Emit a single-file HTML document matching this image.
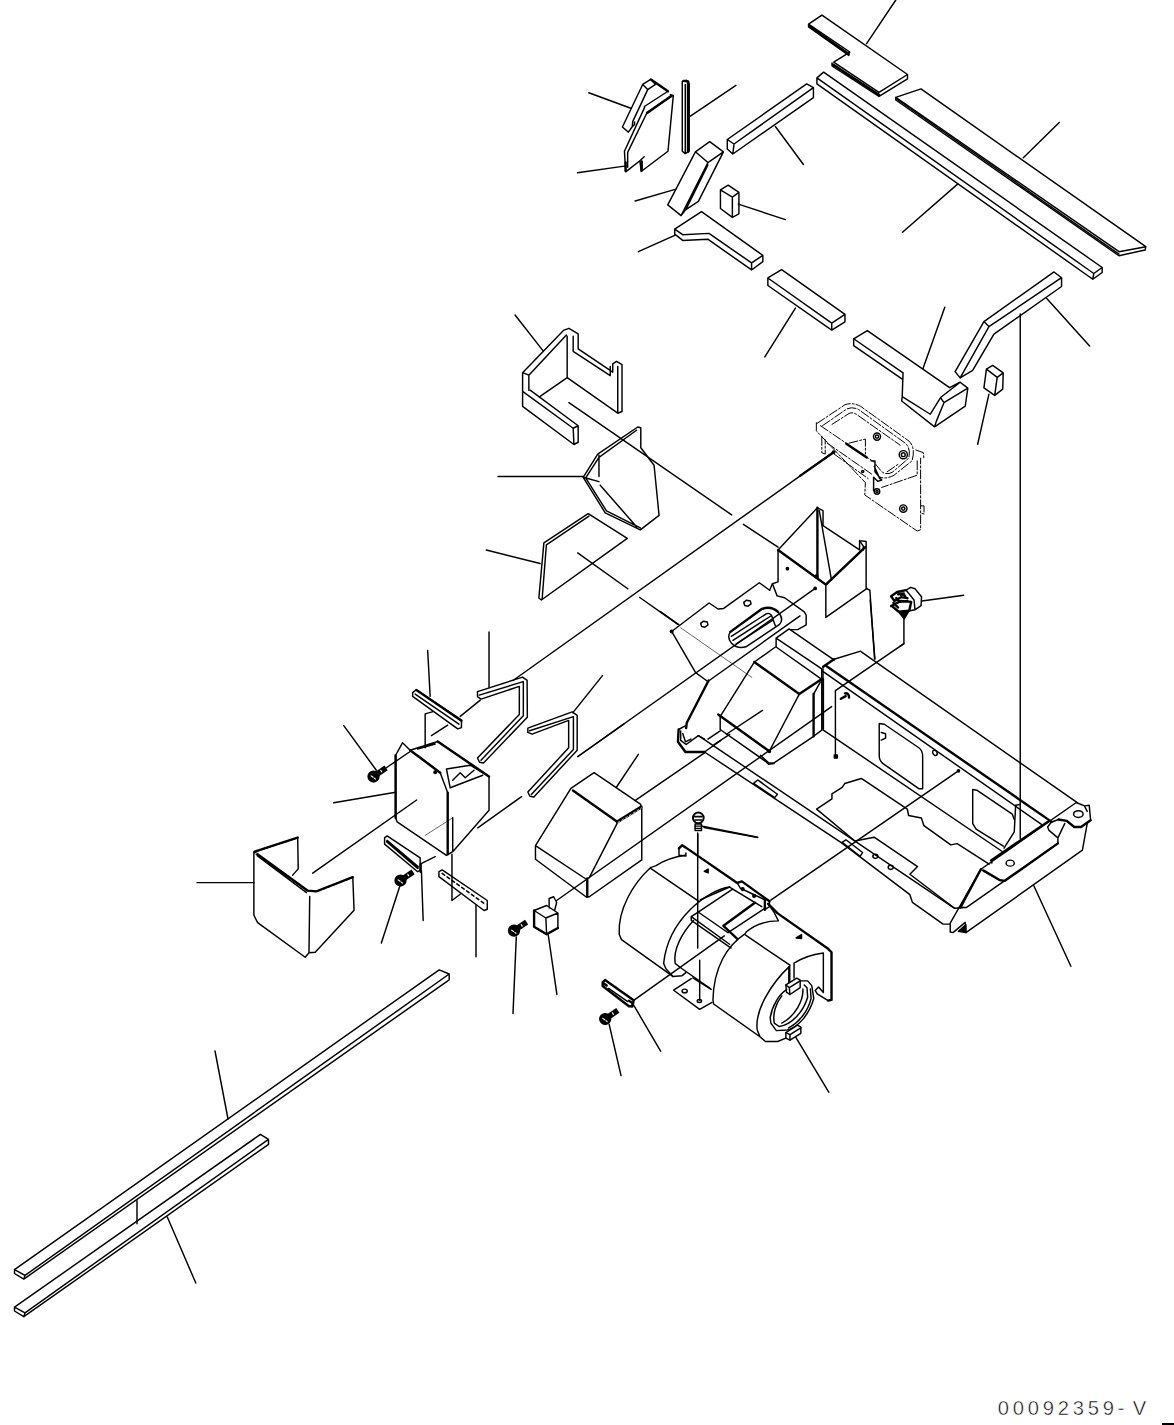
<!DOCTYPE html>
<html><head><meta charset="utf-8"><title>00092359-V</title>
<style>
html,body{margin:0;padding:0;background:#fff;}
body{width:1174px;height:1425px;overflow:hidden;position:relative;font-family:"Liberation Mono",monospace;}
svg{position:absolute;left:0;top:0;}
svg path,svg line,svg ellipse,svg circle,svg polyline,svg polygon,svg rect{fill:none;stroke:#000;stroke-width:1.45;vector-effect:non-scaling-stroke;stroke-linejoin:round;stroke-linecap:round;}
svg .t{stroke-width:2.4;}
svg .w{fill:#fff;}
svg .f{fill:#000;}
svg .p{fill:none;}
svg .d{stroke-dasharray:9 2 2 2;stroke-width:1;}
</style></head><body>
<svg width="1174" height="1425" viewBox="0 0 1174 1425">
<g transform="translate(373.5,776.5)"><circle class="f" cx="0" cy="0" r="5.4"/><path d="M3.5,-2.4 L12.6,-8.6" style="stroke-width:5.6;stroke-linecap:butt"/><path d="M-2.4,-0.6 L-0.4,0.8 M0.8,1.6 L2,2.6 M7.2,-6.2 L8.2,-4.6" style="stroke:#fff;stroke-width:1.1"/></g>
<g transform="translate(400.5,880.5)"><circle class="f" cx="0" cy="0" r="5.4"/><path d="M3.5,-2.4 L12.6,-8.6" style="stroke-width:5.6;stroke-linecap:butt"/><path d="M-2.4,-0.6 L-0.4,0.8 M0.8,1.6 L2,2.6 M7.2,-6.2 L8.2,-4.6" style="stroke:#fff;stroke-width:1.1"/></g>
<g transform="translate(514,930.7)"><circle class="f" cx="0" cy="0" r="5.4"/><path d="M3.5,-2.4 L12.6,-8.6" style="stroke-width:5.6;stroke-linecap:butt"/><path d="M-2.4,-0.6 L-0.4,0.8 M0.8,1.6 L2,2.6 M7.2,-6.2 L8.2,-4.6" style="stroke:#fff;stroke-width:1.1"/></g>
<g transform="translate(605.2,1019)"><circle class="f" cx="0" cy="0" r="5.4"/><path d="M3.5,-2.4 L12.6,-8.6" style="stroke-width:5.6;stroke-linecap:butt"/><path d="M-2.4,-0.6 L-0.4,0.8 M0.8,1.6 L2,2.6 M7.2,-6.2 L8.2,-4.6" style="stroke:#fff;stroke-width:1.1"/></g>
<g transform="translate(780,0) scale(0.3356)">
<path d="M85,72 L125,45 L380,222 L295,275 L160,185 L208,155 Z M85,72 L85,80 L205,165 M155,188 L155,196 L295,287 L380,235 L380,222"/>
<path class="t" d="M88,78 L205,161 M158,192 L295,282"/>
<path d="M345,0 L258,130"/>
<path d="M110,232 L130,215 L960,797 L935,815 Z M110,232 L110,250 L932,832 L960,812 L960,797 M935,815 L932,832"/>
<path d="M345,290 L420,265 L1090,735 L1010,750 Z M345,290 L345,298 L1010,762 L1088,745 L1090,735"/>
<path d="M347,295 L1010,757"/>
<path d="M832,365 L725,470 M530,548 L365,692"/>
</g>
<g transform="translate(650,660) scale(0.13629)">
<path class="t" d="M430,150 L270,460 L265,500 M210,510 L205,600 L260,675 L400,675"/>
<path d="M210,510 L265,480 M225,520 L225,590 L265,620 L355,555 L400,580 M240,540 L260,600 L300,580 M400,675 L520,590"/>
<path d="M425,580 L515,520 M470,620 L585,545"/>

<path d="M760,905 L790,880 L935,985 L915,1010 Z"/>
<path d="M515,415 L515,510 L850,745 L870,765 L910,760"/>
<path d="M385,1220 L790,1300 M350,1280 L350,1423"/>
</g>
<path d="M698.4,735.6 L954.6,908.3 L963,907.5 M704.5,752 L840.9,842.3 L909.9,894.7 L912.4,902.4 L943.1,924.1 L949.5,924.1"/>
<path d="M513,680.5 L833.5,452.1"/>
<path d="M556.6,900.5 L831.6,706.6 M635,800.6 L704.5,752.9 M958.4,770.8 L770.8,900.2 M724.3,935.9 L633.7,1000.3"/>
<path d="M577.9,756.5 L815.2,588.4"/>
<g transform="translate(800,390) scale(0.13629)">
<path class="d" d="M125,245 L330,108 Q385,88 445,120 L800,375 Q850,425 822,520 L690,625 Q640,655 590,640"/>
<path class="d" d="M165,262 L345,138 Q385,120 428,142 L775,392 Q815,432 798,500 L680,602 Q640,628 600,600 L555,545"/>
<path class="d" d="M235,252 L360,172 Q385,160 412,177 L735,405 M640,600 L720,545"/>
<path class="d" d="M150,262 L545,530"/><path class="t" d="M340,395 L490,495"/>
<path class="d" d="M120,240 L120,300 L480,680 L475,770 L860,1035 L885,1025 L885,500 M160,340 L160,460 L185,470 L185,365 M200,390 L530,620 M250,470 L500,650 M860,520 L860,625 L600,715 M360,390 L480,360 L480,470 M890,850 L910,850 L910,910 L890,905 M850,440 L905,460 L910,510"/>
<path d="M520,520 L550,520 L550,600 L600,660 L570,670 L540,640 L540,740 M545,560 L585,650"/>
<circle cx="565" cy="342" r="26"/><circle cx="565" cy="342" r="12"/>
<circle cx="758" cy="475" r="30"/><circle cx="758" cy="475" r="14"/>
<circle cx="758" cy="870" r="27"/><circle cx="758" cy="870" r="12"/>
<circle cx="565" cy="745" r="20"/><circle cx="565" cy="745" r="8"/>
<circle cx="460" cy="598" r="8"/>
<path class="t" d="M0,630 L250,455"/><circle class="f" cx="246" cy="456" r="9"/>
</g>
<g transform="translate(330,620) scale(0.25043)">
<path d="M330,290 L345,278 L525,400 L525,430 L510,435 L330,305 Z M340,296 L515,416 M390,122 L400,305 M415,365 L380,375 L380,510"/>
<path class="t" d="M345,280 L525,402"/>
<path d="M589,286 L769,228 L787,241 L788,388 L613,571 L597,568 L589,551 L756,377 L756,265 L603,316 L589,306 Z M596,300 L772,246 L772,382 L603,560"/>
<path d="M635,48 L635,270 M600,320 L520,385 M470,420 L405,462"/>
<path d="M790,432 L967,367 L987,381 L987,520 L814,707 L798,704 L790,687 L953,510 L953,401 L807,456 L790,449 Z M797,442 L972,386 L972,517 L804,697"/>
<path d="M1088,222 L970,370 M1174,415 L990,545 M765,705 L590,830"/>
<path d="M262,540 L262,790 L268,806 L465,940 L490,925 L635,760 L635,625 L430,485 L320,520 L290,490 Z M350,515 L420,495 M465,595 L560,580 L635,625 M465,595 L480,670 L610,620 M490,640 L520,610 L540,630 L575,600 M350,540 L440,610 L470,690 M490,790 L490,925"/>
<path class="t" d="M470,690 L470,935 M262,540 L262,790 M320,520 L440,610 M430,485 L635,625"/>
<path d="M380,860 L490,790" style="stroke-width:.6"/>
<circle class="f" cx="420" cy="608" r="5"/>
<path d="M15,730 L262,688 M55,422 L185,600 M225,590 L320,525"/>
<path d="M218,870 L228,862 L360,950 L360,1000 L350,1005 L218,895 Z M228,880 L352,985"/>
<path class="t" d="M228,885 L350,990 M362,975 L362,1005"/>
<path d="M360,975 L420,945 M365,1000 L372,1200 M278,1065 L205,1290"/>
<path d="M435,1005 L448,998 L628,1120 L628,1155 L615,1160 L435,1025 Z"/>
<path d="M448,1012 L620,1135" style="stroke-dasharray:3 3;stroke-width:1.6"/>
<path d="M583,1140 L583,1345 M487,935 L487,1120 L520,1095"/>
<path d="M815,1160 L865,1140 L910,1170 L910,1230 L865,1255 L815,1225 Z M815,1160 L862,1190 L910,1170 M862,1190 L865,1255 M875,1150 L875,1112 L893,1105 L905,1128 L897,1160"/>
<path class="t" d="M815,1160 L815,1225 L865,1255 L910,1230"/>
</g>
<path d="M516.3,937 L513,1013.6 M548.2,934.5 L556.9,994.4"/>
<g transform="translate(180,800) scale(0.25043)">
<path d="M295,208 L470,150 L472,275 L450,300 M295,208 L295,460 L310,490 L500,628 L515,610 L540,608 L695,440 L690,308 L545,365 L510,362 Z M518,385 L515,610 M308,222 L505,370"/>
<path class="t" d="M298,206 L470,150 M300,210 L510,362 L545,365 L690,308"/>
<path d="M300,214 L470,158 M545,372 L690,316" style="stroke:#fff;stroke-width:.8;stroke-dasharray:2 3"/>
<path d="M68,330 L295,330 M530,292 L945,0"/>
</g>
<path d="M14.5,1269.6 L439.2,969.8 L449.2,974 L449.2,979.8 L23.8,1279.1 L14.5,1273.5 Z M14.5,1269.6 L25,1275.4 L449.2,974 M25,1275.4 L23.8,1279.1"/>
<path d="M14.5,1307.2 L260.4,1134.4 L268.5,1139.4 L268.5,1144.4 L23.8,1316.7 L14.5,1311 Z M14.5,1307.2 L25,1312.9 L268.5,1139.4 M25,1312.9 L23.8,1316.7"/>
<path d="M137,1200.7 L137,1223.8 M167.3,1217 L195.8,1283 M215,1051 L228,1119"/>
<g transform="translate(560,740) scale(0.13629)">
<path d="M-180,775 L80,355 L250,240 L590,470 L600,500 L600,880 L215,1150 L190,1150 L-180,875 L-180,775 L190,1020 M420,610 L215,1010 M575,105 L415,345"/>
<path class="t" d="M95,370 L420,600 M200,1015 L200,1150"/>
<path d="M420,600 L595,492" style="stroke-width:3.2"/>
<path d="M425,606 L598,498" style="stroke:#fff;stroke-width:.8;stroke-dasharray:2 2.5"/>
</g>
<g transform="translate(610,830) scale(0.15332)">
<path d="M265,245 C150,350 50,520 60,680 L75,715 L410,955 L470,950 L495,930 M265,245 L300,232 C360,195 420,175 490,165 M265,250 L580,465"/>
<path class="t" d="M450,120 L470,100 L495,115 L830,345 L860,335 L1040,465"/>
<path d="M450,120 L450,165 L495,170 L495,150"/>
<path d="M780,372 C640,390 380,580 350,870 L365,905 L410,955 M545,590 C470,670 410,780 425,870 L450,890 L470,905 L655,1035"/>
<path d="M530,565 L575,535 M530,565 L530,590 L790,770 M530,565 L780,745 M575,535 L770,670 L1010,510 M590,455 L780,372 L940,470 M575,535 L800,385 M800,385 L990,500 M830,345 L850,380 L1010,455 L1010,520 L1040,500 L1040,465"/>
<path class="t" d="M740,625 L945,475 M740,625 L830,710 M1010,455 L1010,520"/>
<circle class="f" cx="865" cy="385" r="9"/><circle class="f" cx="940" cy="430" r="9"/>
<path class="f" d="M615,270 L640,255 L640,280 Z"/>
<path d="M415,1045 L530,970 M540,965 L660,1040 M415,1045 L585,1170 L665,1125"/>
<ellipse cx="487" cy="1050" rx="17" ry="12"/><ellipse cx="583" cy="1115" rx="14" ry="10"/>
<path d="M572,20 L572,770 M585,850 L585,1110"/>
</g>
<g transform="translate(580,800) scale(0.2385)">
<path class="t" d="M95,765 L105,755 L225,840 L220,865 L205,865 L95,780 Z"/><path d="M120,790 L200,845"/>
<path class="t" d="M98,768 L112,778 M205,842 L222,852 L218,865"/>
<path d="M225,860 L338,1053 M122,940 L172,1155 M905,995 L1043,1225 M520,115 L745,157"/>
</g>
<g transform="translate(698.3,817.9) scale(0.84)"><circle class="w" cx="0" cy="0" r="6.4" style="stroke-width:1.9"/><path d="M-4.5,-1.5 L4.5,-1.5 M-4,2.5 L4,2.5" style="stroke-width:1.6"/><path class="w" d="M-3.8,7.2 L3.8,7.2 L3.8,15 L-3.8,15 Z" style="stroke-width:1.5"/><path d="M-3.8,9.8 L3.8,9.8 M-3.8,12.4 L3.8,12.4" style="stroke-width:1.3"/></g>
<g transform="translate(700,880) scale(0.13629)">
<path d="M330,395 C200,480 100,640 95,880 L100,910 L440,1150 L480,1185 L570,1185 L630,1160 M330,395 L340,380 C400,330 490,300 575,300 L545,240 L500,175 M335,405 L660,625 M660,630 C520,760 400,960 420,1100 L440,1150"/>
<path d="M690,610 C750,570 830,545 905,535 L905,825 L870,785 L845,810 L860,835 L940,885 L965,880 M690,610 L690,720"/>
<path class="t" d="M500,175 L570,245 L940,505 L965,530 L965,880 L940,885 M655,640 L655,760"/>
<path class="w" d="M630,770 L710,720 L735,735 L735,790 L660,840 L635,825 Z"/><path d="M630,770 L655,790 L735,740 M655,790 L660,840"/>
<path d="M735,740 L790,740 L820,775 L835,870 C800,990 720,1080 640,1100 L560,1105 L520,1050 L515,1010 C530,920 580,840 635,805"/>
<path d="M600,850 C560,900 530,980 545,1050 L580,1075 C680,1060 760,960 790,860 L785,790 L765,770 M755,800 C760,880 700,1000 600,1050 M810,800 L815,870 C790,970 720,1050 650,1085"/>
<path class="w" d="M630,1120 L715,1065 L740,1080 L740,1125 L660,1175 L630,1160 Z"/><path d="M630,1120 L660,1135 L740,1085 M660,1135 L660,1175"/>
<path class="f" d="M705,425 L745,400 L745,430 Z"/>
</g>
<g transform="translate(600,60) scale(0.11925)">
<path d="M188,562 L358,205 L425,162 L570,262 L372,390 M270,560 L238,605 L188,562 M358,205 L400,248 L465,205 L425,162 M400,248 L275,515 L270,560 L290,540 L290,520"/>
<path class="t" d="M430,165 L570,262"/>
<path d="M205,765 L375,395 M590,290 L615,297 L570,765 L345,935 L335,845 L370,812 M335,845 L215,938 L205,765"/>
<path d="M232,900 L232,775 L395,440 L605,300"/>
<path class="t" d="M395,445 L600,300 M215,930 L215,860 M350,925 L350,850"/>
<path d="M690,180 L690,765 L715,785 L748,765 L748,195 L725,170 Z M715,205 L715,780"/>
<path class="t" d="M738,190 L738,770 M700,175 L740,180"/>
<path d="M755,472 L1140,213"/>
<path d="M800,770 L920,685 L1035,770 L905,860 Z M800,770 L568,1215 L680,1305 L905,860 M1035,770 L825,1185 L720,1255 L680,1305 M720,1255 L905,880"/>
<path d="M1010,1090 L1075,1050 L1165,1110 L1165,1290 L1110,1320 L1010,1245 Z M1010,1090 L1110,1150 L1165,1110 M1110,1150 L1110,1320"/>
<path d="M295,1182 L630,1085"/>
</g>
<path d="M588.8,92.7 L630.8,108.3 M577.5,172.8 L624.4,166.1"/>
<g transform="translate(870,570) scale(0.0937)">
<path d="M385,215 L435,185 L480,200 L550,285 L545,380 L480,425 L400,440 M385,215 L470,320 L480,425 M555,330 L1000,270 M362,520 L362,785 L320,815"/>
<path class="f" d="M300,440 L420,430 L365,522 Z"/>
<path class="t" d="M225,280 L290,235 L385,215 M225,280 L260,330 L330,290 L400,300 M240,390 L300,440 M225,385 L330,330 L440,340 L420,430 M300,260 L360,250 M280,300 L320,340 L400,330 M330,270 Q370,250 380,290 M250,350 L300,400"/>
</g>
<g transform="translate(660,580) scale(0.11925)">
<path d="M590,435 L850,245 Q930,212 990,268 Q1045,330 1000,375 L720,560 Q650,582 600,530 Q558,480 590,435 Z"/>
<path d="M598,472 L890,284 Q915,272 935,295 L968,385 M612,506 L930,302 M640,535 L950,335"/>
<path class="t" d="M590,435 L850,245 Q930,212 990,268"/>
</g>
<g transform="translate(880,150) scale(0.25043)">
<path d="M415,685 L695,487 L725,510 L435,705 Z M725,510 L725,545 L455,735 L370,880 L320,910 L300,885 L415,685 M320,910 L435,705"/>
<path d="M560,655 L560,2749"/>
<path d="M665,592 L837,783"/>
<path d="M415,950 L425,875 L450,860 L492,890 L490,955 L458,980 Z M425,875 L468,908 L492,890 M468,908 L458,980"/>
<path d="M435,975 L390,1175"/>
</g>
<g transform="translate(800,280) scale(0.17036)">
<path d="M315,345 L395,297 L878,632 L940,600 L985,635 L845,720 L825,690 L765,788 L600,685 L605,545 Z M315,345 L315,385 L598,580 M600,685 L597,710 L790,862 L970,740 L985,635 M825,690 L940,600 M845,720 L800,830 L790,862"/>
<path d="M850,160 L722,520"/>
</g>
<g transform="translate(470,290) scale(0.25043)">
<path d="M210,330 L375,160 L395,153 L432,175 L432,235 L570,328 L570,295 L585,285 L607,298 L607,485 L590,492 L388,350 L388,185 M235,340 L385,180 M210,330 L235,340 L235,400 M412,185 L412,245 L560,342 L560,305 M590,305 L590,492 M388,350 L280,425 M210,330 L210,465 L415,617 L432,608 L432,542 L240,400 M210,405 L412,552 L432,542 M412,552 L415,617"/>
<path d="M180,100 L292,243"/>
<path d="M395,450 L1045,898"/>
<path d="M452,748 L510,655 L670,547 L682,550 L682,630 L735,700 L755,900 L680,958 L540,890 Z M462,750 L515,668 L665,560 M462,750 L545,882 L680,950 M515,660 L515,745 M452,748 L515,765 M520,780 L665,945"/>
<path d="M112,745 L452,745"/>
<path d="M295,1010 L472,893 L628,992 L285,1238 L275,1230 Z M305,1018 L475,903 M305,1018 L288,1235"/>
<path d="M65,1038 L280,1092 M430,1050 L630,1193 M678,1228 L830,1335"/>
</g>
<g transform="translate(660,490) scale(0.18739)">
<path d="M445,183 L630,305 M0,648 L100,718"/>
<path d="M62,755 L262,603 L310,635 L340,632 L530,495 L585,535 M600,500 L625,565 L665,575 L770,650 L780,668 L780,720 L735,745 L700,745 M62,755 L190,975 L255,1022 L747,672"/>
<path d="M217,712 L232,700 L252,704 L256,720 L240,732 L222,728 Z M447,600 L462,588 L482,592 L486,608 L470,620 L452,616 Z"/>
<path d="M630,320 L840,95 L870,110 L870,190 L1065,320 L1065,270 L1100,275 L1100,525 L1120,535 L1145,900 M630,320 L630,490 L600,500 L585,535 M630,320 L885,505 L1095,305 M850,110 L915,480 M885,505 L885,680 L1105,525 M1065,270 L1085,300 L1085,320"/>
<path class="t" d="M840,95 L840,470 M630,320 L885,505 L1095,305"/>
<circle cx="835" cy="462" r="8"/>
<circle class="f" cx="680" cy="420" r="6"/><circle class="f" cx="828" cy="525" r="6"/><circle class="f" cx="62" cy="755" r="7"/>
<path d="M110,735 L490,1000" style="stroke-width:.6"/>
</g>
<g transform="translate(740,600) scale(0.13629)">
<path d="M265,280 L360,212 L625,395 L690,440 M265,280 L600,505 M265,280 L265,345 L590,575 M105,455 L260,345 M435,690 L215,1110 M105,455 L-146,856 M-160,840 L215,1110 M150,1140 L210,1195 L250,1195 L540,1000 L600,955 M540,690 L590,600 M600,505 L600,955 M612,580 L612,945 M690,435 L885,375 M955,0 L990,435 M1202.6,320 L700,665 L700,1140 M-100,985 L165,810"/>
<path class="t" d="M105,455 L435,690 L600,580 M540,690 L540,1000 M610,490 L690,435 M-160,840 L215,1110"/>
<rect class="f" x="692" y="1138" width="22" height="22"/><circle class="f" cx="215" cy="1110" r="9"/>
<path class="t" d="M740,725 L775,705 M770,685 Q800,680 800,715"/>
</g>
<g transform="translate(800,620) scale(0.25554)">
<path d="M240,125 L1085,715 M88,200 L945,800 M90,190 L90,430 L790,905"/>
<path class="t" d="M100,178 L985,790"/>
<path d="M310,405 L330,408 L465,500 Q480,510 480,535 L480,660 L465,660 L325,562 Q310,550 310,530 Z M318,440 L335,445 L335,462 L318,470"/>
<ellipse cx="528" cy="520" rx="8" ry="11" transform="rotate(-30 528 520)"/>
<circle class="f" cx="620" cy="590" r="4.5"/>
<path d="M65,740 L125,700 L125,680 L165,655 L175,640 L240,620 L420,740 L425,765 L475,775 L485,805 L590,880 L615,875 L740,955 M65,740 L215,865 L290,850 L460,965 L430,995 L605,1128"/>
<ellipse cx="295" cy="925" rx="10" ry="8"/><ellipse cx="355" cy="968" rx="10" ry="8"/>
<path d="M165,870 L180,860 L245,910 L235,925 Z"/>
<path d="M915,1040 L1060,1355"/>
</g>
<g transform="translate(940,780) scale(0.13629)">
<path d="M300,655 L1000,165 L1060,190 L1095,185 L1105,295 L1035,345 L985,345 L930,300 L870,290 L815,310 L790,345 L800,370 L865,425 L865,465 L475,740 L440,735 Z M915,320 L865,425 M300,655 L75,1050 L75,1115 L95,1120 L185,1045 L190,1120 L1045,515 L1080,320 M150,935 L195,935 L470,742 M1060,190 L1080,230"/>
<path class="t" d="M375,590 L800,300 M300,655 L150,935 M320,665 L440,735 L475,740 L865,465 M870,290 L930,300 L985,345 L1035,345 L1105,295"/>
<path class="f" d="M135,1110 L190,1062 L190,1120 Z"/>
<ellipse cx="515" cy="610" rx="30" ry="22"/><ellipse cx="1015" cy="250" rx="35" ry="25"/>
<path d="M555,185 L585,180 M555,185 L545,380 L470,500"/>
<path d="M240,70 L240,320 L265,360 L465,485 M240,70 L270,75 L530,250 L545,290"/>
<path d="M380,585 L380,610"/>
</g>
<g transform="translate(560,0) scale(0.25043)">
<path d="M668,557 L985,335 L1012,350 L695,575 Z M668,557 L668,595 L690,615 L1012,390 L1012,350 M695,575 L690,615"/>
<path d="M860,505 L972,657 M712,815 L900,877 M313,1005 L458,940 M940,1230 L818,1425"/>
<path d="M458,915 L565,845 L810,1020 L810,1045 L765,1078 L590,955 L490,960 L458,935 Z M458,915 L490,937 L595,932 L765,1050 L810,1020 M765,1050 L765,1078"/>
<path d="M830,1110 L885,1077 L1138,1255 L1085,1290 Z M830,1110 L830,1140 L1085,1318 L1138,1285 L1138,1255 M1085,1290 L1085,1318"/>
</g>
<text id="code" transform="translate(997.8,1415.4)" x="0.00 14.99 29.98 44.97 59.96 74.95 89.94 104.93 119.92 134.91" y="0" font-family="'Liberation Sans',sans-serif" font-size="20.2" fill="#000" stroke="#fff" stroke-width="0.5">00092359-V</text>
<rect x="1162" y="1423" width="12" height="2" style="fill:#000;stroke:none"/>
</svg>
</body></html>
